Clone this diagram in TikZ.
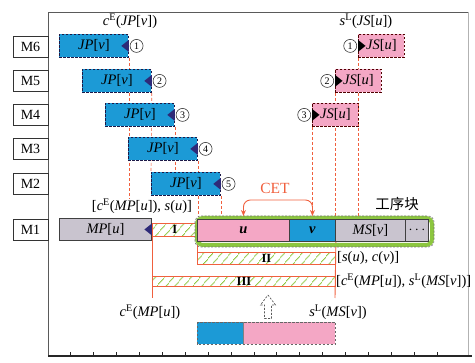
\documentclass[tikz,border=0pt]{standalone}
\usepackage{fontspec}
\setmainfont{Liberation Serif}
\newfontfamily\cjk{Noto Sans CJK SC}
\usetikzlibrary{patterns.meta,arrows.meta,positioning}
\pgfdeclarelayer{bg}
\pgfsetlayers{bg,main}
\definecolor{jpblue}{HTML}{1C9AD6}
\definecolor{jspink}{HTML}{F4A7C5}
\definecolor{mpgray}{HTML}{C9C4CF}
\definecolor{hgreen}{HTML}{8CC63F}
\definecolor{lred}{HTML}{F0603E}
\definecolor{navy}{HTML}{2E2A78}
\definecolor{framec}{HTML}{5A5A5A}
\newcommand\vi[1]{\textit{#1}}
\newcommand\supE{\textsuperscript{E}}
\newcommand\supL{\textsuperscript{L}}
\begin{document}
\begin{tikzpicture}[x=1pt,y=-1pt,
  mlabel/.style={draw=black!80, line width=0.7pt, fill=white, minimum width=35pt, minimum height=21pt, inner sep=0, font=\fontsize{14}{14}\selectfont},
  barbase/.style={anchor=north west, inner sep=0, font=\fontsize{14.5}{14.5}\selectfont},
  jpbar/.style={barbase, fill=jpblue, draw=navy!60!black, dash pattern=on 2.5pt off 1.5pt, line width=0.8pt, minimum width=69pt, minimum height=23pt},
  jsbar/.style={barbase, fill=jspink, draw=black!55!red!70!black, dash pattern=on 2.5pt off 1.5pt, line width=0.8pt, minimum width=46pt, minimum height=23pt},
  rowbox/.style={barbase, draw=black!75, line width=0.9pt, minimum height=22pt},
  hbox/.style={anchor=north west, inner sep=0, draw=lred, line width=0.9pt, pattern={Lines[angle=50,distance=6.5pt,line width=0.8pt]}, pattern color=hgreen, font=\fontsize{12.5}{12.5}\selectfont\bfseries},
  circnum/.style={draw=black!85, circle, line width=0.55pt, inner sep=0, minimum size=13pt, font=\fontsize{10}{10}\selectfont},
  reddash/.style={lred, line width=0.6pt, dash pattern=on 3pt off 2pt},
  redline/.style={lred, line width=0.9pt},
  lbl/.style={inner sep=0, font=\fontsize{14.5}{14.5}\selectfont}
]
\useasboundingbox (0,0) rectangle (475,363);
% frame and axis
\draw[framec, line width=0.9pt] (468,12) -- (48,12) -- (48,356);
\draw[black!30, line width=0.6pt] (468,12) -- (468,356);
\draw[black!85, line width=1.1pt] (48,356) -- (472,356);
\foreach \k in {0,...,16} \draw[black!85, line width=0.7pt] ({70.7+22.9*\k},356) -- ++(0,-4);
% machine labels
\node[mlabel] (lm6) at (30.5,47) {M6};
\node[mlabel] (lm5) at (30.5,80.5) {M5};
\node[mlabel] (lm4) at (30.5,114.5) {M4};
\node[mlabel] (lm3) at (30.5,148.5) {M3};
\node[mlabel] (lm2) at (30.5,183.5) {M2};
\node[mlabel] (lm1) at (30.5,229.5) {M1};
% JP bars
\node[jpbar] (jp6) at (59,34) {\vi{JP}[\vi{v}]};
\node[jpbar] (jp5) at (82,69) {\vi{JP}[\vi{v}]};
\node[jpbar] (jp4) at (105,103) {\vi{JP}[\vi{v}]};
\node[jpbar] (jp3) at (128,137) {\vi{JP}[\vi{v}]};
\node[jpbar] (jp2) at (151,172) {\vi{JP}[\vi{v}]};
\foreach \b in {jp6,jp5,jp4,jp3,jp2}
  \fill[navy] ([yshift=6pt]\b.east) -- ([yshift=-6pt]\b.east) -- ([xshift=-7.5pt]\b.east) -- cycle;
\node[circnum, right=1pt of jp6.east] (n1) {1};
\node[circnum, right=1pt of jp5.east] (n2) {2};
\node[circnum, right=1pt of jp4.east] (n3) {3};
\node[circnum, right=1pt of jp3.east] (n4) {4};
\node[circnum, right=1pt of jp2.east] (n5) {5};
% JS bars
\node[jsbar] (js6) at (358,34) {\vi{JS}[\vi{u}]};
\node[jsbar] (js5) at (335,69) {\vi{JS}[\vi{u}]};
\node[jsbar] (js4) at (312,103) {\vi{JS}[\vi{u}]};
\foreach \b in {js6,js5,js4}
  \fill[black] ([yshift=6pt]\b.west) -- ([yshift=-6pt]\b.west) -- ([xshift=7.5pt]\b.west) -- cycle;
\node[circnum, left=1pt of js6.west] (s1) {1};
\node[circnum, left=1pt of js5.west] (s2) {2};
\node[circnum, left=1pt of js4.west] (s3) {3};
% top labels
\node[lbl] (tjp) at (130,21) {\vi{c}\supE(\vi{JP}[\vi{v}])};
\node[lbl] (tjs) at (366,21) {\vi{s}\supL(\vi{JS}[\vi{u}])};
% M1 row
\node[rowbox, fill=mpgray, minimum width=92pt] (mp) at (59,218) {\vi{MP}[\vi{u}]};
\fill[navy] ([yshift=6pt]mp.east) -- ([yshift=-6pt]mp.east) -- ([xshift=-7.5pt]mp.east) -- cycle;
\node[hbox, minimum width=45pt, minimum height=13pt] (h1) at (152,223) {I};
\node[lbl] (l1) at (142,206) {[\vi{c}\supE(\vi{MP}[\vi{u}]), \vi{s}(\vi{u})]};
% operation block
\node[draw=hgreen, line width=4pt, rounded corners=6pt, minimum width=235pt, minimum height=27pt, anchor=north west, inner sep=0] (blk) at (195,216) {};
\draw[black!55, line width=0.6pt, dash pattern=on 2pt off 1.5pt, rounded corners=6pt] (blk.north west) rectangle (blk.south east);
\node[rowbox, fill=jspink, minimum width=92pt] (ru) at (197,219) {\bfseries\vi{u}};
\node[rowbox, fill=jpblue, minimum width=46pt] (rv) at (289,219) {\bfseries\vi{v}};
\node[rowbox, fill=mpgray, minimum width=70pt] (rms) at (335,219) {\vi{MS}[\vi{v}]};
\node[rowbox, fill=mpgray, minimum width=23pt] (rdots) at (405,219) {$\cdots$};
\node[lbl] (gxk) at (397,204) {\cjk 工序块};
% CET
\draw[redline, {Stealth[length=6pt,width=5pt]}-{Stealth[length=6pt,width=5pt]}, rounded corners=7pt] (ru.north |- blk.north) -- ++(0,-16) -| (rv.north |- blk.north);
\node[lbl, text=lred, font=\fontsize{15.5}{15.5}\selectfont] (cet) at (275,188) {CET};
% hatched II, III
\node[hbox, minimum width=138pt, minimum height=12pt] (h2) at (197,252) {II};
\node[hbox, minimum width=183pt, minimum height=10pt] (h3) at (152,276) {III};
\node[lbl, anchor=west] (l2) at (337,258) {[\vi{s}(\vi{u}), \vi{c}(\vi{v})]};
\node[lbl, anchor=west] (l3) at (336,281) {[\vi{c}\supE(\vi{MP}[\vi{u}]), \vi{s}\supL(\vi{MS}[\vi{v}])]};
\coordinate (cemp) at (152,298);
\coordinate (slms) at (335,298);
\node[lbl] (lcemp) at (150,312) {\vi{c}\supE(\vi{MP}[\vi{u}])};
\node[lbl] (lslms) at (338,312) {\vi{s}\supL(\vi{MS}[\vi{v}])};
% bottom bar and arrow
\node[barbase, fill=jpblue, minimum width=46pt, minimum height=22pt] (bb1) at (197,322) {};
\node[barbase, fill=jspink, minimum width=92pt, minimum height=22pt] (bb2) at (243,322) {};
\draw[black!60, line width=0.8pt, dash pattern=on 2.5pt off 1.5pt] (bb1.north west) rectangle (bb2.south east);
\draw[black!50, line width=0.6pt] (bb1.north east) -- (bb1.south east);
\coordinate (up) at (268,295);
\draw[black!65, line width=0.7pt, dash pattern=on 2pt off 1.5pt, fill=white]
  (up) -- ++(7.5,10) -- ++(-4,0) -- ++(0,13.5) -- ++(-7,0) -- ++(0,-13.5) -- ++(-4,0) -- cycle;
% connectors on background
\begin{pgfonlayer}{bg}
\draw[reddash] (jp6.south east) -- (jp6.south east |- l1.north);
\draw[reddash] (jp5.south east) -- (jp2.north west);
\draw[reddash] (jp4.south east) -- (jp4.south east |- jp2.north);
\draw[reddash] (jp3.south east) -- (jp3.south east |- blk.north);
\draw[reddash] (jp2.south east) -- (jp2.south east |- blk.north);
\draw[reddash] (js6.south west) -- (js6.south west |- blk.north);
\draw[reddash] (js5.south west) -- (js5.south west |- blk.north);
\draw[reddash] (js4.south west) -- (js4.south west |- blk.north);
\draw[redline] (h1.north west) -- (cemp);
\draw[redline] (rv.south east) -- (slms);
\draw[redline] (ru.south west) -- (h2.south west);
\end{pgfonlayer}
\end{tikzpicture}
\end{document}
